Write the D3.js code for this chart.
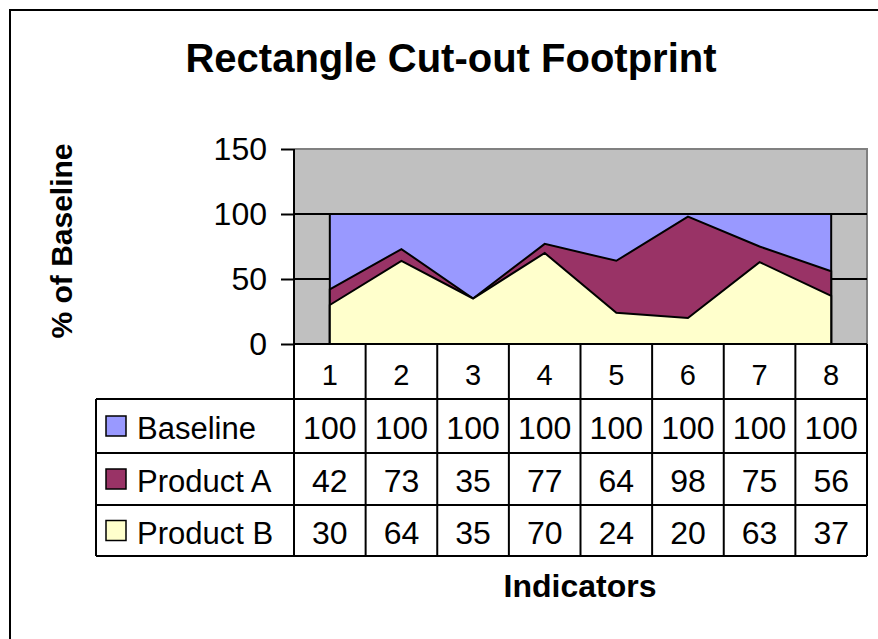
<!DOCTYPE html>
<html>
<head>
<meta charset="utf-8">
<script src="https://cdn.jsdelivr.net/npm/d3@7"></script>
<style>
  html, body { margin: 0; padding: 0; background: #fff; }
  svg { display: block; font-family: "Liberation Sans", Arial, sans-serif; }
</style>
</head>
<body>
<svg id="chart" width="878" height="639"></svg>
<script>
const categories = ["1", "2", "3", "4", "5", "6", "7", "8"];
const baseline = [100, 100, 100, 100, 100, 100, 100, 100];
const productA = [42, 73, 35, 77, 64, 98, 75, 56];
const productB = [30, 64, 35, 70, 24, 20, 63, 37];
const yTicks = [0, 50, 100, 150];
const seriesNames = ["Baseline", "Product A", "Product B"];
const seriesColors = ["#9999FF", "#993366", "#FFFFCC"];
const title = "Rectangle Cut-out Footprint";
const yTitle = "% of Baseline";
const xTitle = "Indicators";

const seriesValues = [baseline, productA, productB];

const svg = d3.select("#chart");
const plotL = 294, plotR = 867, plotT = 149, plotB = 344;
const tableL = 96;
const rowBounds = [344, 399, 453, 505, 556];

const x = d3.scaleBand().domain(categories).range([plotL, plotR]).padding(0);
const xc = c => x(c) + x.bandwidth() / 2;
const y = d3.scaleLinear().domain([0, 150]).range([plotB, plotT]);

// outer frame
svg.append("rect").attr("x", 10).attr("y", 10).attr("width", 900).attr("height", 700)
  .attr("fill", "#fff").attr("stroke", "#000").attr("stroke-width", 2);

// title
svg.append("text").attr("x", 451).attr("y", 72).attr("text-anchor", "middle")
  .attr("font-size", 40).attr("font-weight", "bold").text(title);

// plot background
svg.append("rect").attr("x", plotL).attr("y", plotT).attr("width", plotR - plotL).attr("height", plotB - plotT)
  .attr("fill", "#C0C0C0");
svg.append("path").attr("d", `M${plotL},${plotT}H${plotR}V${plotB}`)
  .attr("fill", "none").attr("stroke", "#808080").attr("stroke-width", 2);

// gridlines
svg.append("g").selectAll("line").data(yTicks.filter(t => t > 0 && t < 150)).join("line")
  .attr("x1", plotL).attr("x2", plotR).attr("y1", d => y(d)).attr("y2", d => y(d))
  .attr("stroke", "#000").attr("stroke-width", 2);

// areas
const area = d3.area().x((d, i) => xc(categories[i])).y0(y(0)).y1(d => y(d)).curve(d3.curveLinear);
svg.append("g").selectAll("path").data(seriesValues).join("path")
  .attr("d", d => {
    const p = area(d);
    return p;
  })
  .attr("fill", (d, i) => seriesColors[i])
  .attr("stroke", "#000").attr("stroke-width", 2).attr("stroke-linejoin", "miter");

// y axis
const yAxis = d3.axisLeft(y).tickValues(yTicks).tickSize(13).tickPadding(14);
const gy = svg.append("g").attr("transform", `translate(${plotL},0)`).call(yAxis);
gy.select(".domain").remove();
gy.selectAll(".tick line").attr("stroke", "#000").attr("stroke-width", 2);
gy.selectAll(".tick text").attr("font-size", 32).attr("font-family", "Liberation Sans, Arial, sans-serif")
  .attr("fill", "#000").attr("dy", "0.32em");
svg.append("line").attr("x1", plotL).attr("x2", plotL).attr("y1", plotT).attr("y2", rowBounds[4])
  .attr("stroke", "#000").attr("stroke-width", 2);

// y title
svg.append("text").attr("transform", `translate(72,241) rotate(-90)`).attr("text-anchor", "middle")
  .attr("font-size", 30).attr("font-weight", "bold").text(yTitle);

// data table
const tg = svg.append("g").attr("stroke", "#000").attr("stroke-width", 2);
// x axis / header top
tg.append("line").attr("x1", plotL).attr("x2", plotR).attr("y1", plotB).attr("y2", plotB);
// horizontal row lines
tg.selectAll("line.h").data(rowBounds.slice(1)).join("line").attr("class", "h")
  .attr("x1", tableL).attr("x2", plotR).attr("y1", d => d).attr("y2", d => d);
// vertical column lines
const colEdges = categories.map(c => x(c) + x.bandwidth());
tg.selectAll("line.v").data(colEdges).join("line").attr("class", "v")
  .attr("x1", d => d).attr("x2", d => d).attr("y1", rowBounds[0]).attr("y2", rowBounds[4]);
tg.append("line").attr("x1", tableL).attr("x2", tableL).attr("y1", rowBounds[1]).attr("y2", rowBounds[4]);

// category labels
svg.append("g").selectAll("text").data(categories).join("text")
  .attr("x", d => xc(d)).attr("y", 385).attr("text-anchor", "middle")
  .attr("font-size", 29).text(d => d);

// rows
seriesNames.forEach((name, r) => {
  const top = rowBounds[r + 1], bot = rowBounds[r + 2];
  const mid = (top + bot) / 2;
  svg.append("rect").attr("x", 106).attr("y", mid - 10).attr("width", 20).attr("height", 20)
    .attr("fill", seriesColors[r]).attr("stroke", "#000").attr("stroke-width", 1.5);
  svg.append("text").attr("x", 137).attr("y", mid + 13).attr("font-size", 31).text(name);
  svg.append("g").selectAll("text").data(seriesValues[r]).join("text")
    .attr("x", (d, i) => xc(categories[i])).attr("y", mid + 13).attr("text-anchor", "middle")
    .attr("font-size", 32).text(d => d);
});

// x title
svg.append("text").attr("x", 580).attr("y", 597).attr("text-anchor", "middle")
  .attr("font-size", 32).attr("font-weight", "bold").text(xTitle);
</script>
</body>
</html>
